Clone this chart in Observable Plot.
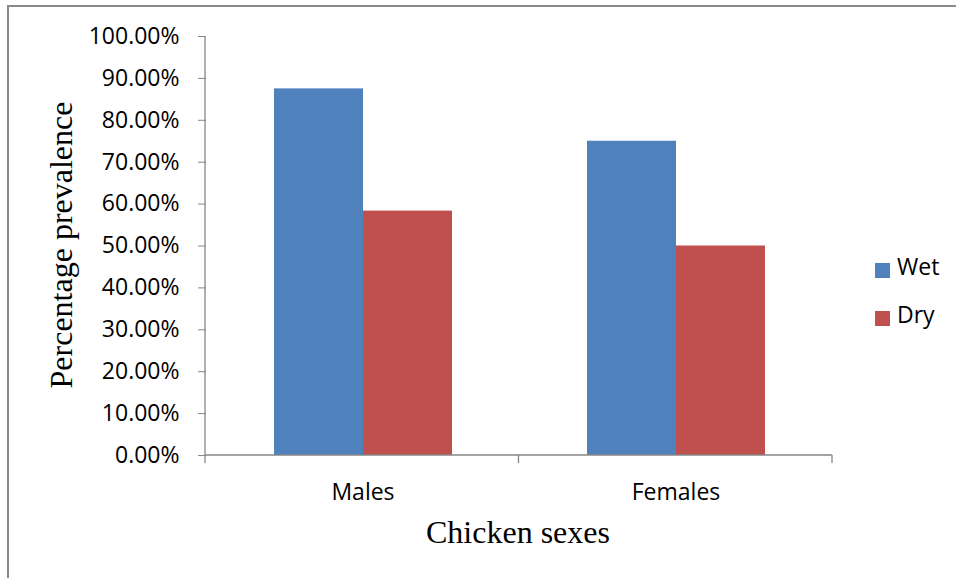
<!DOCTYPE html>
<html>
<head>
<meta charset="utf-8">
<script src="https://cdn.jsdelivr.net/npm/d3@7"></script>
<script src="https://cdn.jsdelivr.net/npm/@observablehq/plot@0.6"></script>
<style>
  body { margin: 0; background: #fff; }
  #chart { position: relative; width: 956px; height: 578px; overflow: hidden; background: #fff; }
  #frame { position: absolute; left: 7px; top: 5px; width: 1000px; height: 700px;
           border: 2px solid #8a8a8a; box-sizing: border-box; }
  #plot { position: absolute; left: 0; top: 0; }
  .title { position: absolute; font-family: "Liberation Serif", "Times New Roman", serif;
           font-size: 32px; color: #000; white-space: nowrap; text-align: center; }
  #xtitle { left: 218px; width: 600px; top: 516px; line-height: 32px; }
  #ytitle { left: -139px; width: 400px; top: 225px; height: 40px; line-height: 40px;
            transform: rotate(-90deg); }
  .key { position: absolute; font-family: "Open Sans", sans-serif; font-size: 23px; color: #000;
         line-height: 23px; }
  .key span.sw { position: absolute; left: 0; top: 4px; width: 15px; height: 15px; }
  .key span.lb { position: absolute; left: 22px; top: -4px; white-space: nowrap; }
</style>
</head>
<body>
<div id="chart">
  <div id="frame"></div>
  <div id="plot"></div>
  <div class="title" id="xtitle">Chicken sexes</div>
  <div class="title" id="ytitle">Percentage prevalence</div>
</div>
<script>
// Prevalence by chicken sex and season
const sexes = ["Males", "Females"];
const seasons = ["Wet", "Dry"];
const wetPrevalence = [0.875, 0.75];
const dryPrevalence = [0.5833, 0.5];
const seasonColors = ["#4F81BD", "#C0504D"];
const yTicks = [0, 0.1, 0.2, 0.3, 0.4, 0.5, 0.6, 0.7, 0.8, 0.9, 1.0];

const rows = [];
sexes.forEach((sex, i) => {
  rows.push({sex, season: "Wet", value: wetPrevalence[i]});
  rows.push({sex, season: "Dry", value: dryPrevalence[i]});
});

const axisGray = "#868686";
const fmt = d3.format(".2%");

const plot = Plot.plot({
  width: 956,
  height: 578,
  marginLeft: 205,
  marginRight: 124,
  marginTop: 36,
  marginBottom: 123,
  style: {background: "transparent", color: "#000", overflow: "visible"},
  fx: {domain: sexes, padding: 0, label: null},
  x: {domain: seasons, paddingInner: 0, paddingOuter: 0.7465, axis: null},
  y: {domain: [0, 1], label: null},
  color: {domain: seasons, range: seasonColors},
  marks: [
    Plot.barY(rows, {fx: "sex", x: "season", y: "value", fill: "season"}),
    Plot.axisFx({
      anchor: "bottom", tickSize: 0, tickPadding: 28, label: null,
      fontSize: 23, fontFamily: "Open Sans, sans-serif"
    }),
    Plot.axisY({
      ticks: yTicks, tickFormat: fmt, tickSize: 8, tickPadding: 19, label: null,
      stroke: axisGray, fontSize: 23, fontFamily: "Open Sans, sans-serif"
    })
  ]
});
document.getElementById("plot").appendChild(plot);

// Axis lines and category boundary ticks, placed from the plot's own scales
const fxScale = plot.scale("fx");
const yScale = plot.scale("y");
const [fx0, fx1] = fxScale.range;
const y0 = yScale.range[0];
const y1 = yScale.range[1];
const svg = d3.select(plot.tagName.toLowerCase() === "svg" ? plot : plot.querySelector("svg"));
const g = svg.append("g").attr("stroke", axisGray).attr("stroke-width", 1.3);
g.append("line").attr("x1", fx0).attr("x2", fx0).attr("y1", y1).attr("y2", y0);
g.append("line").attr("x1", fx0).attr("x2", fx1).attr("y1", y0).attr("y2", y0);
const step = (fx1 - fx0) / sexes.length;
for (let i = 0; i <= sexes.length; i++) {
  const x = fx0 + i * step;
  g.append("line").attr("x1", x).attr("x2", x).attr("y1", y0).attr("y2", y0 + 8);
}

// Legend on the right
const colorScale = plot.scale("color");
const chart = document.getElementById("chart");
colorScale.domain.forEach((name, i) => {
  const item = document.createElement("div");
  item.className = "key";
  item.style.left = "875px";
  item.style.top = (259 + i * 48) + "px";
  item.innerHTML = `<span class="sw" style="background:${colorScale.range[i]}"></span><span class="lb">${name}</span>`;
  chart.appendChild(item);
});
</script>
</body>
</html>
